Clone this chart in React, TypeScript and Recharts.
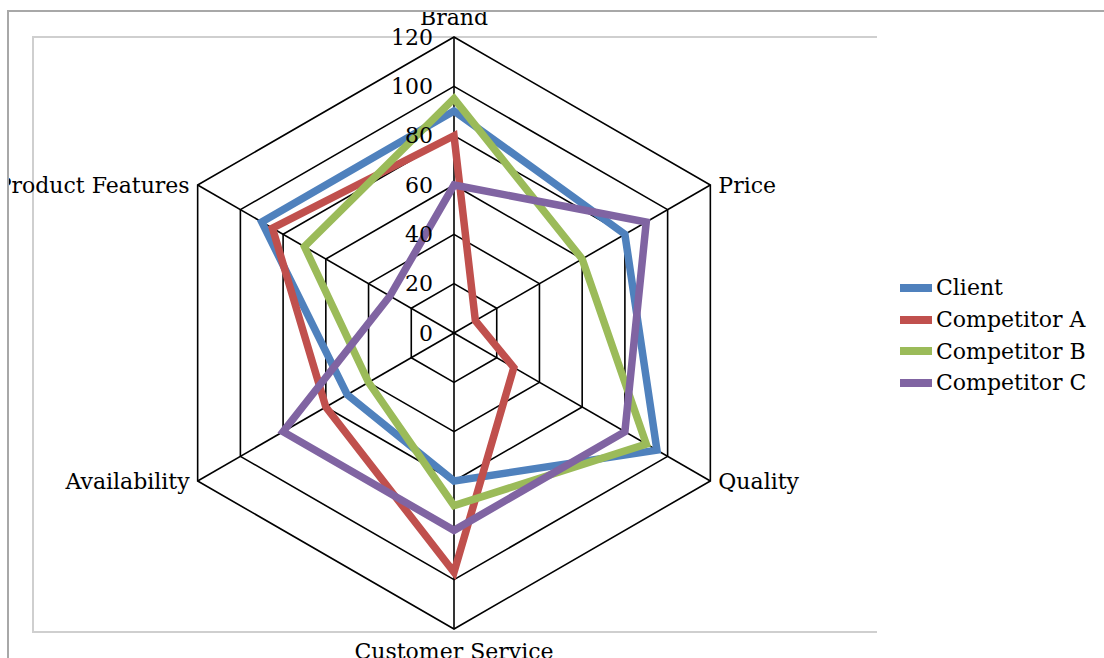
import React from 'react';
import { RadarChart, Radar, PolarGrid, PolarAngleAxis, PolarRadiusAxis, Legend } from 'recharts';

const subjects = ['Brand', 'Price', 'Quality', 'Customer Service', 'Availability', 'Product Features'];
const client = [90, 80, 95, 60, 50, 90];
const competitorA = [80, 10, 28, 97, 60, 85];
const competitorB = [95, 60, 90, 70, 40, 70];
const competitorC = [60, 90, 80, 80, 80, 30];
const radiusTicks = [0, 20, 40, 60, 80, 100, 120];

const seriesNames = ['Client', 'Competitor A', 'Competitor B', 'Competitor C'];
const seriesKeys = ['client', 'competitorA', 'competitorB', 'competitorC'];
const seriesColors = ['#4F81BD', '#C0504D', '#9BBB59', '#8064A2'];

const rows = subjects.map((s, i) => ({
  subject: s,
  client: client[i],
  competitorA: competitorA[i],
  competitorB: competitorB[i],
  competitorC: competitorC[i],
}));

const CX = 454;
const CY = 333;
const R = 296;
const FONT = 'DejaVu Serif';
const FS = 22;

const AngleTick = (props: any) => {
  const { payload } = props;
  const a = (payload.coordinate * Math.PI) / 180;
  const c = Math.cos(a);
  const s = Math.sin(a);
  const vx = CX + R * c;
  const vy = CY - R * s;
  let x = vx;
  let y = vy;
  let anchor: any = 'middle';
  if (Math.abs(c) < 0.01) {
    y = vy + (s > 0 ? -20 : 22);
  } else {
    x = vx + (c > 0 ? 8 : -8);
    anchor = c > 0 ? 'start' : 'end';
  }
  return (
    <text x={x} y={y} textAnchor={anchor} dominantBaseline="central" fontFamily={FONT} fontSize={FS} fill="#000">
      {payload.value}
    </text>
  );
};

const RadiusTick = (props: any) => {
  const { x, y, payload } = props;
  return (
    <text x={x - 21} y={y} textAnchor="end" dominantBaseline="central" fontFamily={FONT} fontSize={FS} fill="#000">
      {payload.value}
    </text>
  );
};

const renderLegend = () => (
  <div style={{ fontFamily: FONT, fontSize: FS, color: '#000' }}>
    {seriesNames.map((n, i) => (
      <div key={n} style={{ display: 'flex', alignItems: 'center', height: 31.7, whiteSpace: 'nowrap' }}>
        <span style={{ display: 'inline-block', width: 32, height: 8, background: seriesColors[i], marginRight: 4 }} />
        <span>{n}</span>
      </div>
    ))}
  </div>
);

export default function App() {
  return (
    <div>
      <style>{`html,body{overflow:hidden;}`}</style>
      <div
        style={{
          position: 'absolute',
          left: 7,
          top: 10,
          width: 1095,
          height: 646,
          borderTop: '2px solid #a8a8a8',
          borderLeft: '2px solid #a8a8a8',
          overflow: 'hidden',
          background: '#fff',
        }}
      >
        <div style={{ position: 'absolute', left: -9, top: -12, width: 1104, height: 658 }}>
          <div
            style={{
              position: 'absolute',
              left: 32,
              top: 36,
              width: 843,
              height: 593,
              borderTop: '2px solid #cfcfcf',
              borderLeft: '2px solid #cfcfcf',
              borderBottom: '2px solid #cfcfcf',
            }}
          />
          <div style={{ position: 'absolute', left: 0, top: 0 }}>
            <RadarChart
              width={1104}
              height={658}
              data={rows}
              cx={CX}
              cy={CY}
              outerRadius={R}
              margin={{ top: 0, right: 0, bottom: 0, left: 0 }}
              style={{ fontFamily: FONT }}
            >
              <PolarGrid gridType="polygon" stroke="#000" strokeWidth={1.6} />
              <PolarAngleAxis dataKey="subject" tick={AngleTick} tickLine={false} axisLine={false} />
              <PolarRadiusAxis
                angle={90}
                domain={[0, 120]}
                ticks={radiusTicks as any}
                tickCount={7}
                tick={RadiusTick}
                axisLine={false}
                tickLine={false}
              />
              {seriesKeys.map((k, i) => (
                <Radar
                  key={k}
                  name={seriesNames[i]}
                  dataKey={k}
                  stroke={seriesColors[i]}
                  strokeWidth={7.5}
                  fill="none"
                  fillOpacity={0}
                  dot={false}
                  isAnimationActive={false}
                />
              ))}
              <Legend content={renderLegend} wrapperStyle={{ left: 900, top: 272, width: 204 }} />
            </RadarChart>
          </div>
        </div>
      </div>
    </div>
  );
}
